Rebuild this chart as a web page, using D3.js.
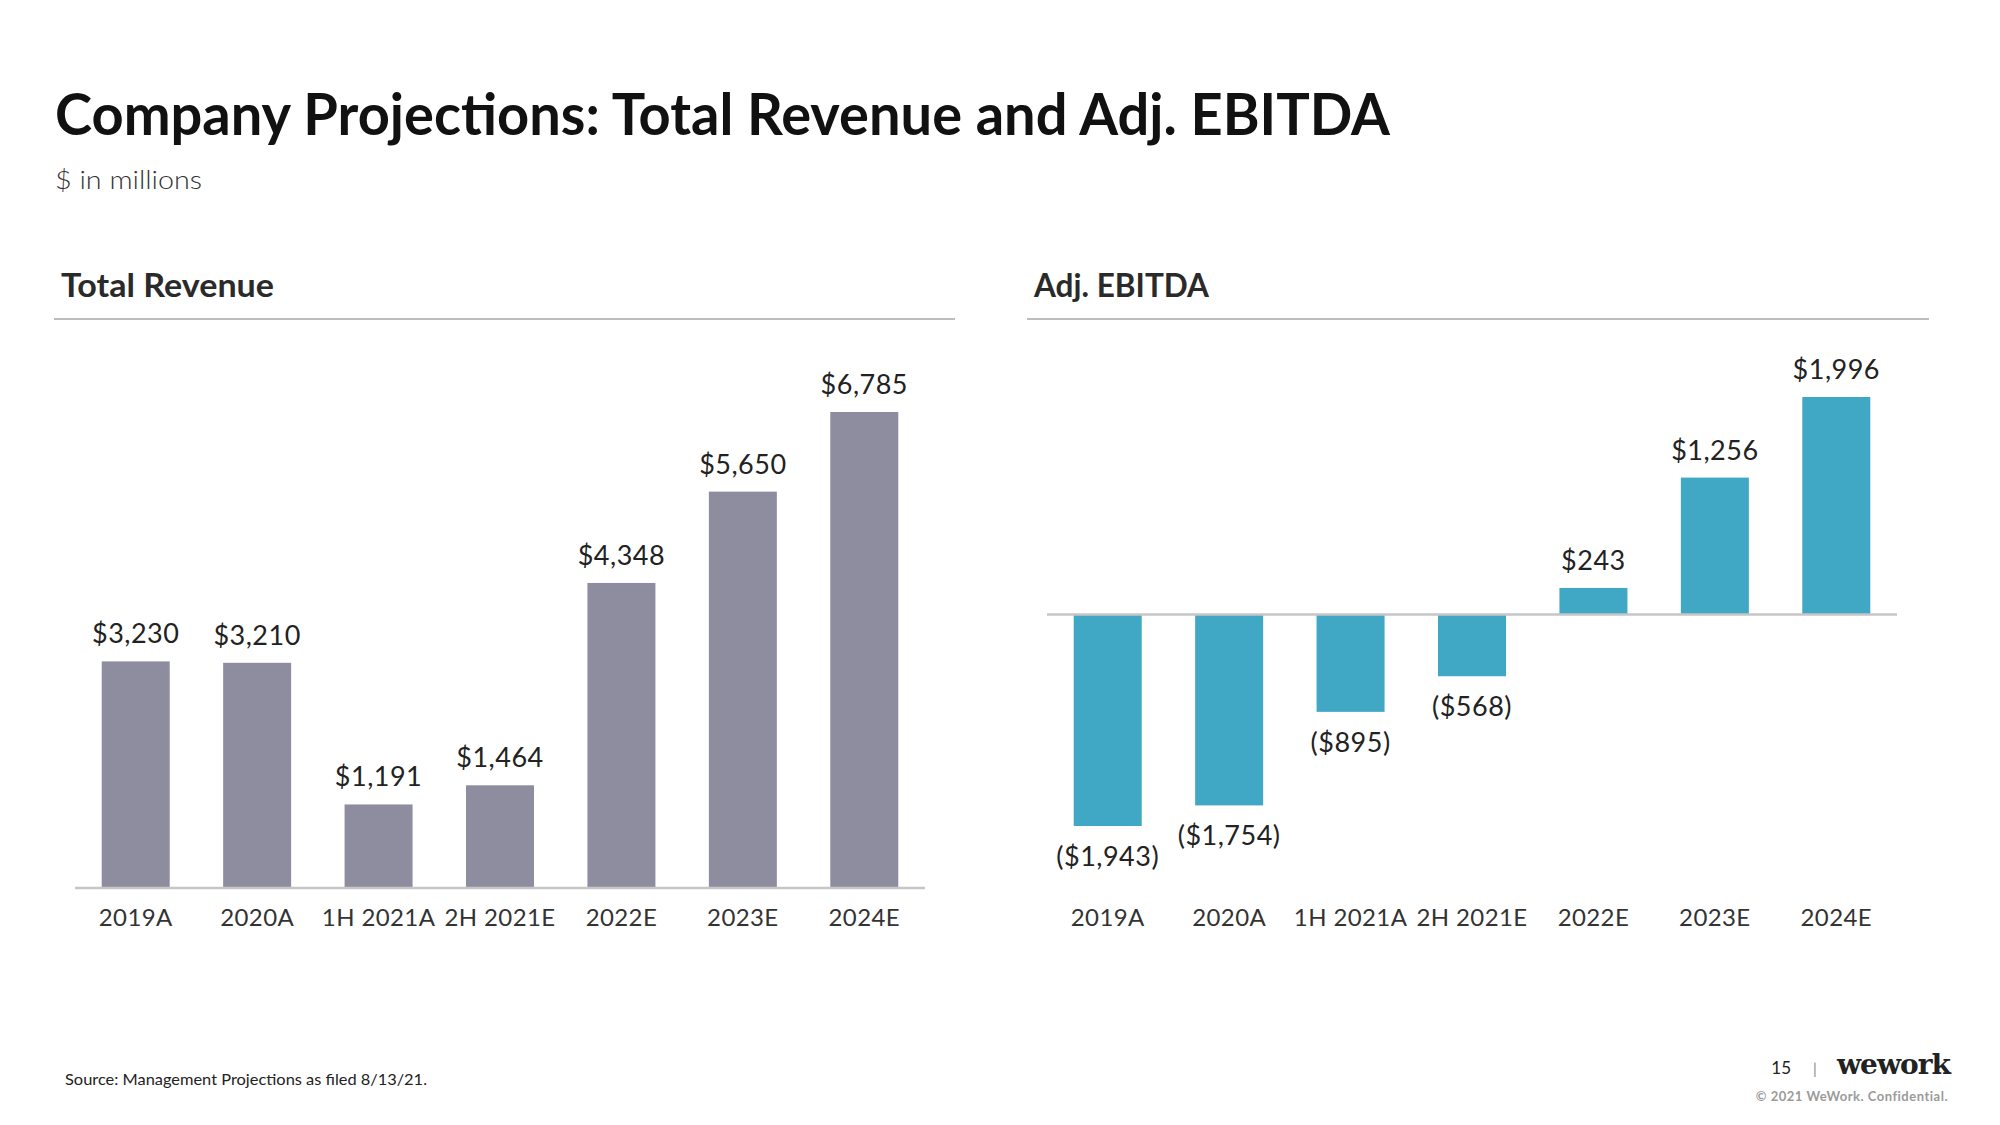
<!DOCTYPE html>
<html><head><meta charset="utf-8">
<script src="https://cdn.jsdelivr.net/npm/d3@7"></script>
<style>
html,body{margin:0;padding:0;background:#fff;}
svg{display:block;}
</style></head>
<body>
<svg id="chart" width="2000" height="1125"></svg>
<script>
const categories = ["2019A","2020A","1H 2021A","2H 2021E","2022E","2023E","2024E"];
const revenue = [3230,3210,1191,1464,4348,5650,6785];
const ebitda = [-1943,-1754,-895,-568,243,1256,1996];
const titleText = "Company Projections: Total Revenue and Adj. EBITDA";
const subtitleText = "$ in millions";
const panelTitles = ["Total Revenue","Adj. EBITDA"];
const sourceText = "Source: Management Projections as filed 8/13/21.";

const svg = d3.select("#chart");
const FONT = "Lato, 'Open Sans', sans-serif";
const fmt = d3.format(",");
const labelOf = v => v < 0 ? "($" + fmt(-v) + ")" : "$" + fmt(v);

function fit(sel, w){
  sel.each(function(){
    const L = this.getComputedTextLength();
    if (Math.abs(L - w) > 2) d3.select(this).attr("textLength", w).attr("lengthAdjust","spacingAndGlyphs");
  });
}

// Title & subtitle
svg.append("text").attr("x",55).attr("y",135).attr("font-family",FONT).attr("font-weight",700)
  .attr("font-size",57).attr("fill","#111").text(titleText).call(fit,1335);
svg.append("text").attr("x",55).attr("y",189).attr("font-family",FONT).attr("font-weight",300)
  .attr("font-size",25).attr("fill","#333").text(subtitleText).call(fit,147);

// panels
const panels = [
  {title: panelTitles[0], tx:61, tw:213, rule:[54,955], x0:75, data: revenue, color:"#8e8da0", yr:[888,412]},
  {title: panelTitles[1], tx:1034, tw:175, rule:[1027,1929], x0:1047, data: ebitda, color:"#40a8c5", yr:[826,397]}
];

panels.forEach(p => {
  const g = svg.append("g");
  g.append("text").attr("x",p.tx).attr("y",297).attr("font-family",FONT).attr("font-weight",700)
    .attr("font-size",32).attr("fill","#2a2a2a").text(p.title).call(fit,p.tw);
  g.append("line").attr("x1",p.rule[0]).attr("x2",p.rule[1]).attr("y1",319).attr("y2",319)
    .attr("stroke","#bdbdbd").attr("stroke-width",2);

  const x = d3.scaleBand().domain(categories).range([p.x0, p.x0+850]).paddingInner(0.44).paddingOuter(0.22);
  const ext = d3.extent(p.data.concat([0]));
  const y = d3.scaleLinear().domain(ext[0] < 0 ? ext : [0, ext[1]]).range(p.yr);

  g.selectAll("rect.bar").data(p.data).join("rect").attr("class","bar")
    .attr("x",(d,i)=>x(categories[i])).attr("width",x.bandwidth())
    .attr("y",d=>Math.min(y(d),y(0))).attr("height",d=>Math.abs(y(d)-y(0)))
    .attr("fill",p.color);

  g.append("line").attr("x1",p.x0).attr("x2",p.x0+850).attr("y1",y(0)).attr("y2",y(0))
    .attr("stroke","#c6c6c6").attr("stroke-width",2.5);

  g.selectAll("text.val").data(p.data).join("text").attr("class","val")
    .attr("x",(d,i)=>x(categories[i])+x.bandwidth()/2)
    .attr("y",d=> d<0 ? y(d)+40 : y(d)-18)
    .attr("text-anchor","middle").attr("font-family",FONT).attr("font-size",27)
    .attr("letter-spacing",0.5).attr("fill","#222").text(labelOf);

  const ax = g.append("g").attr("transform","translate(0,888)")
    .call(d3.axisBottom(x).tickSize(0).tickPadding(21));
  ax.select(".domain").remove();
  ax.selectAll("text").attr("font-family",FONT).attr("font-size",24).attr("letter-spacing",0.4)
    .attr("fill","#333");
});

// footer
svg.append("text").attr("x",65).attr("y",1085).attr("font-family",FONT).attr("font-size",16)
  .attr("fill","#222").text(sourceText).call(fit,362);
svg.append("text").attr("x",1791).attr("y",1074).attr("text-anchor","end").attr("font-family",FONT)
  .attr("font-size",17).attr("fill","#222").text("15");
svg.append("text").attr("x",1815).attr("y",1074).attr("text-anchor","middle").attr("font-family",FONT)
  .attr("font-size",15).attr("fill","#888").text("|");
svg.append("text").attr("x",1837).attr("y",1074).attr("font-family","'DejaVu Serif', serif").attr("font-weight",700)
  .attr("font-size",28).attr("letter-spacing",-1).attr("fill","#222").text("wework").call(fit,111);
svg.append("text").attr("x",1948).attr("y",1101).attr("text-anchor","end").attr("font-family",FONT).attr("font-weight",700)
  .attr("font-size",13).attr("letter-spacing",0.5).attr("fill","#9a9a9a").text("© 2021 WeWork. Confidential.");
</script>
</body></html>
